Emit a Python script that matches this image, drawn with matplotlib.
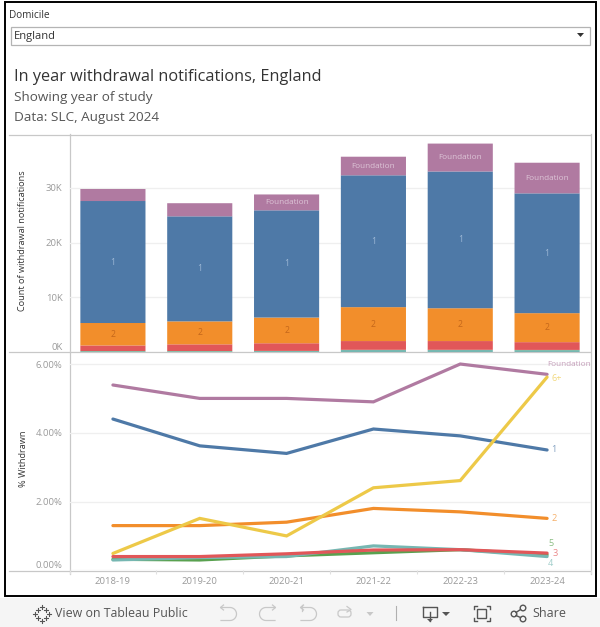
import numpy as np
import matplotlib
matplotlib.use('Agg')
import matplotlib.pyplot as plt
from matplotlib.patches import Rectangle, Polygon, Circle, FancyBboxPatch

plt.rcParams['font.family'] = ['Open Sans', 'DejaVu Sans']

years = ['2018-19', '2019-20', '2020-21', '2021-22', '2022-23', '2023-24']

# withdrawal counts, stacked bottom to top
count_4 = [150, 150, 170, 360, 360, 340]
count_5 = [20, 20, 20, 30, 30, 30]
count_6 = [10, 10, 10, 10, 10, 10]
count_3 = [1020, 1220, 1400, 1600, 1600, 1420]
count_2 = [4100, 4200, 4700, 6200, 6000, 5300]
count_1 = [22300, 19200, 19600, 24100, 25000, 21900]
count_f = [2200, 2400, 2900, 3400, 5100, 5600]

# percent withdrawn
pct_f = [5.39, 5.0, 5.0, 4.9, 6.0, 5.7]
pct_1 = [4.4, 3.62, 3.4, 4.11, 3.91, 3.5]
pct_2 = [1.3, 1.3, 1.4, 1.8, 1.7, 1.51]
pct_6 = [0.49, 1.51, 1.0, 2.4, 2.61, 5.62]
pct_5 = [0.32, 0.3, 0.42, 0.51, 0.6, 0.45]
pct_4 = [0.3, 0.37, 0.4, 0.71, 0.6, 0.4]
pct_3 = [0.4, 0.4, 0.48, 0.59, 0.6, 0.5]

c_f = '#b07aa1'
c_1 = '#4e79a7'
c_2 = '#f28e2b'
c_3 = '#e15759'
c_4 = '#76b7b2'
c_5 = '#59a14f'
c_6 = '#edc948'
grey = '#c8c8c8'
tick_c = '#9a9a9a'
icon_on = '#555555'
icon_off = '#c8c8c8'

W, H = 600, 627
fig = plt.figure(figsize=(W / 100, H / 100), dpi=100)
fig.patch.set_facecolor('white')


def px_axes(left, top, right, bottom):
    return fig.add_axes([left / W, 1 - bottom / H, (right - left) / W, (bottom - top) / H])


def undo_icon(axis, x0, sgn, col):
    # arrow with half-round tail, sgn=1 points left, sgn=-1 points right
    t = np.linspace(-np.pi / 2, np.pi / 2, 20)
    xs = np.r_[x0 - 7 * sgn, x0 + 2 * sgn + 6.5 * sgn * np.cos(t), x0 - 7 * sgn]
    ys = np.r_[607.5, 614 + 6.5 * np.sin(t), 620.5]
    axis.plot(xs, ys, color=col, lw=0.9)
    axis.plot([x0 - 4.5 * sgn, x0 - 7.5 * sgn, x0 - 4.5 * sgn], [605, 607.5, 610], color=col, lw=0.9)


# page furniture drawn in pixel coordinates
bg = fig.add_axes([0, 0, 1, 1], zorder=0)
bg.set_xlim(0, W)
bg.set_ylim(H, 0)
bg.axis('off')
bg.add_patch(Rectangle((0, 598), W, 29, fc='#f5f5f5', ec='none'))
bg.add_patch(Rectangle((4.5, 1.5), 591, 594, fc='white', ec='black', lw=1.4))
bg.add_patch(Rectangle((10.5, 26.5), 579, 18, fc='white', ec='#b4b4b4', lw=0.9))
bg.add_patch(Polygon([[577, 33], [584, 33], [580.5, 37]], fc='#333333', ec='none'))
bg.text(9.5, 15, 'Domicile', fontsize=7.2, color='#333333', va='center')
bg.text(14, 36, 'England', fontsize=8, color='#333333', va='center')
bg.text(13.5, 77, 'In year withdrawal notifications, England', fontsize=11.7, color='#333333', va='center')
bg.text(13.5, 98, 'Showing year of study', fontsize=9.7, color='#555555', va='center')
bg.text(13.5, 117, 'Data: SLC, August 2024', fontsize=9.7, color='#555555', va='center')
for y in (134.5, 351.5, 570.5):
    bg.plot([9, 590], [y, y], color=grey, lw=0.9)
bg.plot([69.5, 69.5], [134, 574], color=grey, lw=0.9)
bg.plot([590.5, 590.5], [134, 574], color=grey, lw=0.9)
bg.text(23, 241, 'Count of withdrawal notifications', rotation=90, fontsize=6.6, color='#333333', ha='center', va='center')
bg.text(23, 459, '% Withdrawn', rotation=90, fontsize=6.6, color='#333333', ha='center', va='center')

# toolbar
bg.text(55, 613.5, 'View on Tableau Public', fontsize=8.9, color=icon_on, va='center')
for dx, dy in [(0, -7), (0, 7), (-7, 0), (7, 0), (-4, -4), (4, -4), (-4, 4), (4, 4)]:
    bg.plot([41.5 + dx - 2, 41.5 + dx + 2], [613.5 + dy, 613.5 + dy], color=icon_on, lw=0.8)
    bg.plot([41.5 + dx, 41.5 + dx], [613.5 + dy - 2, 613.5 + dy + 2], color=icon_on, lw=0.8)
undo_icon(bg, 228, 1, icon_off)
undo_icon(bg, 268, -1, icon_off)
undo_icon(bg, 308, 1, icon_off)
bg.plot([301.5, 301.5], [605, 611], color=icon_off, lw=0.9)
bg.add_patch(FancyBboxPatch((338, 610), 13, 7, boxstyle='round,pad=0,rounding_size=3', fc='none', ec=icon_off, lw=0.9))
bg.plot([347, 351, 347], [606.5, 609.5, 612], color=icon_off, lw=0.9)
bg.add_patch(Polygon([[366.5, 612], [373.5, 612], [370, 616]], fc=icon_off, ec='none'))
bg.plot([395.5, 395.5], [606, 620], color='#b0b0b0', lw=0.8)
bg.plot([423, 423, 437, 437, 423], [606.5, 617, 617, 606.5, 606.5], color=icon_on, lw=1)
bg.plot([430, 430], [612, 621], color=icon_on, lw=1)
bg.add_patch(Polygon([[427, 619], [433, 619], [430, 622]], fc=icon_on, ec='none'))
bg.add_patch(Polygon([[442, 612], [450, 612], [446, 616]], fc=icon_on, ec='none'))
bg.add_patch(Rectangle((477, 609), 9, 9, fc='none', ec=icon_on, lw=1))
for cx, cy in [(473.5, 606), (489.5, 606), (473.5, 621), (489.5, 621)]:
    sx = 3 if cx < 480 else -3
    sy = 3 if cy < 610 else -3
    bg.plot([cx + sx, cx, cx], [cy, cy, cy + sy], color=icon_on, lw=1)
for cx, cy in [(514, 614), (523, 608), (523, 619)]:
    bg.add_patch(Circle((cx, cy), 2.8, fc='none', ec=icon_on, lw=1))
bg.plot([516, 520.5], [612.5, 609.5], color=icon_on, lw=1)
bg.plot([516, 520.5], [615.5, 617.5], color=icon_on, lw=1)
bg.text(532, 613.5, 'Share', fontsize=9, color=icon_on, va='center')

x = np.arange(len(years))

# bars
ax = px_axes(69.5, 134.5, 590.5, 352)
ax.patch.set_alpha(0)
stack = [(count_4, c_4), (count_5, c_5), (count_6, c_6), (count_3, c_3), (count_2, c_2), (count_1, c_1), (count_f, c_f)]
base = np.zeros(len(years))
for vals, col in stack:
    rects = ax.bar(x, vals, width=0.75, bottom=base, color=col, lw=0, zorder=3)
    for r in rects:
        r.set_snap(False)
    if col == c_2 or col == c_1:
        lab_c = '#c4671a' if col == c_2 else '#9db8d6'
        lab = '2' if col == c_2 else '1'
        for i in x:
            ax.text(i, base[i] + vals[i] / 2, lab, color=lab_c, fontsize=6.2, ha='center', va='center', zorder=4)
    if col == c_f:
        for i in x[2:]:
            ax.text(i, base[i] + vals[i] / 2, 'Foundation', color='#dcc4d6', fontsize=5.9, ha='center', va='center', zorder=4)
    base = base + np.array(vals)
ax.set_xlim(-0.5, 5.5)
ax.set_ylim(0, 39760)
ax.set_yticks([0, 10000, 20000, 30000])
ax.set_yticklabels(['0K', '10K', '20K', '30K'], fontsize=6.8, color=tick_c)
ax.get_yticklabels()[0].set_va('bottom')
ax.grid(axis='y', color='#efefef', lw=0.9, zorder=0)
ax.tick_params(length=0, pad=5)
ax.set_xticks([])
for s in ax.spines.values():
    s.set_visible(False)

# lines
ax2 = px_axes(69.5, 352, 590.5, 570.3)
ax2.patch.set_alpha(0)
lines = [(pct_f, c_f, 'Foundation'), (pct_1, c_1, '1'), (pct_2, c_2, '2'), (pct_6, c_6, '6+'),
         (pct_5, c_5, '5'), (pct_4, c_4, '4'), (pct_3, c_3, '3')]
for vals, col, name in lines:
    ax2.plot(x, vals, color=col, lw=2.3, zorder=3, solid_capstyle='round', solid_joinstyle='miter')
offs = {'Foundation': (0, 10), '6+': (4, -1), '1': (4, 0), '2': (4, 0), '3': (5, 0), '4': (1, -7), '5': (1, 11)}
for vals, col, name in lines:
    dx, dy = offs[name]
    size = 5.9 if name == 'Foundation' else 6.6
    ax2.annotate(name, (x[-1], vals[-1]), xytext=(dx * 0.72, dy * 0.72), textcoords='offset points',
                 color=col, alpha=0.7, fontsize=size, ha='left', va='center', zorder=4)
ax2.set_xlim(-0.5, 5.5)
ax2.set_ylim(0, 6.35)
ax2.set_yticks([0, 2, 4, 6])
ax2.set_yticklabels(['0.00%', '2.00%', '4.00%', '6.00%'], fontsize=6.8, color=tick_c)
ax2.get_yticklabels()[0].set_va('bottom')
ax2.grid(axis='y', color='#efefef', lw=0.9, zorder=0)
ax2.set_xticks(x)
ax2.set_xticklabels(years, fontsize=6.8, color=tick_c)
ax2.set_xticks(np.arange(-0.5, 6), minor=True)
ax2.tick_params(axis='x', which='major', length=0, pad=5)
ax2.tick_params(axis='x', which='minor', length=3, color='#e0e0e0', width=0.8)
ax2.tick_params(axis='y', length=0, pad=5)
for s in ax2.spines.values():
    s.set_visible(False)

fig.savefig('out.png', dpi=100)
